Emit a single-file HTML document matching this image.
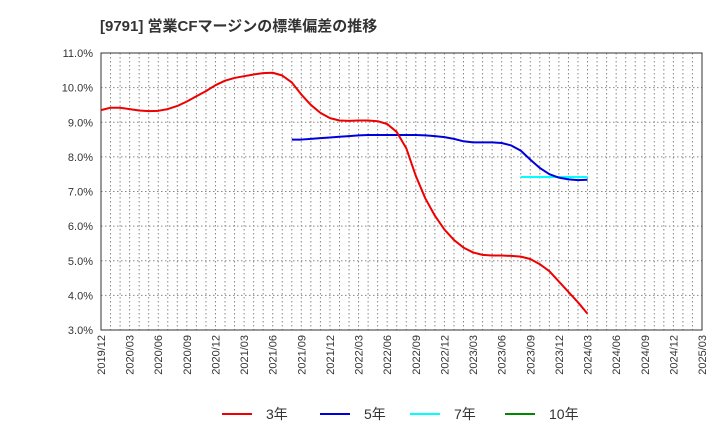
<!DOCTYPE html>
<html><head><meta charset="utf-8"><style>
body{margin:0;background:#fff;font-family:"Liberation Sans","Noto Sans CJK JP",sans-serif}
</style></head><body>
<svg width="720" height="440" xmlns="http://www.w3.org/2000/svg" font-family="Liberation Sans, Noto Sans CJK JP, sans-serif">
<text x="100" y="31" font-size="15" font-weight="bold" fill="#333">[9791]  営業CFマージンの標準偏差の推移</text>
<g id="grid"></g><g id="axes"></g><g id="series"></g><g id="legend"></g>
</svg>
<script>
const xLabels=["2019/12","2020/03","2020/06","2020/09","2020/12","2021/03","2021/06","2021/09","2021/12","2022/03","2022/06","2022/09","2022/12","2023/03","2023/06","2023/09","2023/12","2024/03","2024/06","2024/09","2024/12","2025/03"];
const yTicks=[3,4,5,6,7,8,9,10,11];
const s3=[9.35,9.42,9.42,9.38,9.34,9.32,9.33,9.38,9.47,9.6,9.75,9.9,10.07,10.2,10.28,10.33,10.38,10.42,10.43,10.35,10.15,9.8,9.5,9.27,9.12,9.05,9.04,9.05,9.05,9.03,8.95,8.72,8.25,7.45,6.8,6.3,5.9,5.6,5.38,5.24,5.17,5.15,5.15,5.14,5.12,5.05,4.9,4.7,4.4,4.1,3.8,3.47];
const s3Start=0;
const s5=[8.5,8.5,8.52,8.54,8.56,8.58,8.6,8.62,8.63,8.63,8.63,8.63,8.63,8.63,8.62,8.6,8.57,8.52,8.45,8.42,8.42,8.42,8.4,8.33,8.18,7.92,7.68,7.5,7.4,7.35,7.33,7.34];
const s5Start=20;
const s7=[7.42,7.42,7.42,7.42,7.42,7.42,7.42,7.42];
const s7Start=44;
const s10=[];
const s10Start=0;
const NS="http://www.w3.org/2000/svg";
const L=101,R=702,T=53,B=330,months=63;
const xm=m=>L+(R-L)*m/months;
const y=v=>B-(v-3)/(11-3)*(B-T);
function mk(t,a,p){const e=document.createElementNS(NS,t);for(const k in a)e.setAttribute(k,a[k]);p.appendChild(e);return e;}
const grid=document.getElementById('grid'),axes=document.getElementById('axes'),ser=document.getElementById('series'),leg=document.getElementById('legend');
for(let m=1;m<months;m++){const l=mk('line',{x1:xm(m),x2:xm(m),y1:T,y2:B,stroke:'#888','stroke-dasharray':'1.5,2.5','stroke-width':1},grid);

}
yTicks.forEach(v=>{const l=mk('line',{x1:L,x2:R,y1:y(v),y2:y(v),stroke:'#888','stroke-dasharray':'1.5,2.5'},grid);


const t=mk('text',{x:93,y:y(v)+4,'text-anchor':'end','font-size':11,fill:'#333'},axes);t.textContent=v.toFixed(1)+'%';

});
const fr=mk('rect',{x:L,y:T,width:R-L,height:B-T,fill:'none',stroke:'#333'},axes);


xLabels.forEach((s,i)=>{const x=xm(i*3);const t=mk('text',{x:x+4,y:B+5,'text-anchor':'end','font-size':11,fill:'#333',transform:`rotate(-90 ${x+4} ${B+5})`},axes);t.textContent=s;

});
function line(arr,st,col,name){if(!arr.length)return;const p=mk('polyline',{points:arr.map((v,i)=>xm(st+i)+','+y(v)).join(' '),fill:'none',stroke:col,'stroke-width':2,'stroke-linejoin':'round'},ser);

}
line(s7,s7Start,'#00ffff','series-7y');
line(s5,s5Start,'#0000dd','series-5y');
line(s3,s3Start,'#ee0000','series-3y');
line(s10,s10Start,'#008800','series-10y');
[['3年','#ee0000',222],['5年','#0000dd',320],['7年','#00ffff',410],['10年','#008800',505]].forEach(([n,c,x])=>{
const g=mk('g',{},leg);


mk('line',{x1:x,x2:x+30,y1:414,y2:414,stroke:c,'stroke-width':2},g);
const t=mk('text',{x:x+44,y:419,'font-size':14,fill:'#333'},g);t.textContent=n;});
</script>
</body></html>
